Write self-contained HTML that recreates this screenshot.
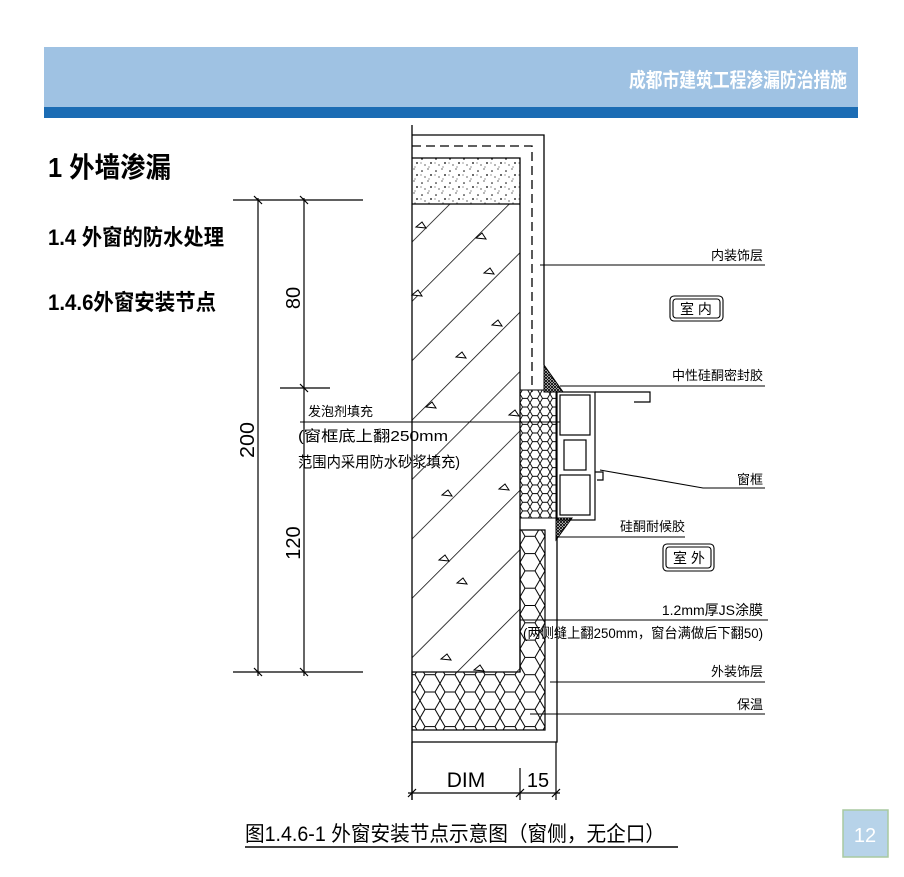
<!DOCTYPE html>
<html><head><meta charset="utf-8"><style>
html,body{margin:0;padding:0;background:#fff;}
svg{display:block;}
.cj{font-family:"Liberation Sans","Noto Sans CJK SC",sans-serif;}
</style></head><body>
<svg width="904" height="877" viewBox="0 0 904 877" xmlns="http://www.w3.org/2000/svg" class="cj">
<defs>
<pattern id="hatch" patternUnits="userSpaceOnUse" width="42" height="42" patternTransform="rotate(-45)">
<line x1="0" y1="0" x2="0" y2="42" stroke="#000" stroke-width="1.4" transform="rotate(90 21 21)"/>
</pattern>
<pattern id="hex" patternUnits="userSpaceOnUse" width="20" height="17.3">
<path d="M0,8.65 L5,0 L15,0 L20,8.65 L15,17.3 L5,17.3 Z M-5,17.3 L0,8.65 M20,8.65 L25,17.3" fill="none" stroke="#000" stroke-width="1"/>
</pattern>
<pattern id="hexs" patternUnits="userSpaceOnUse" width="10" height="8.66">
<path d="M0,4.33 L2.5,0 L7.5,0 L10,4.33 L7.5,8.66 L2.5,8.66 Z" fill="none" stroke="#000" stroke-width="0.9"/>
</pattern>
<pattern id="sand" patternUnits="userSpaceOnUse" width="14" height="12">
<circle cx="2" cy="3" r="0.8"/><circle cx="8" cy="1" r="0.6"/><circle cx="11" cy="7" r="0.9"/><circle cx="5" cy="9" r="0.6"/><circle cx="9" cy="11" r="0.5"/><circle cx="1" cy="7" r="0.5"/>
</pattern>
<pattern id="mesh" patternUnits="userSpaceOnUse" width="3" height="3"><rect width="3" height="3" fill="#fff"/><path d="M0,0L3,3M3,0L0,3" stroke="#000" stroke-width="0.9"/></pattern>
<path id="tri" d="M0,0 L-6,5 L4,6 Z" fill="#fff" stroke="#000" stroke-width="1"/>
</defs>
<!-- header -->
<rect x="44" y="47" width="814" height="61" fill="#9fc2e3"/>
<rect x="44" y="107" width="814" height="11" fill="#1b6cb4"/>
<text x="847" y="87" font-size="20" font-weight="bold" fill="#fff" text-anchor="end" textLength="218" lengthAdjust="spacingAndGlyphs">成都市建筑工程渗漏防治措施</text>
<!-- headings -->
<text x="48" y="177" font-size="28" font-weight="bold" textLength="123" lengthAdjust="spacingAndGlyphs">1 外墙渗漏</text>
<text x="48" y="245" font-size="22" font-weight="bold" textLength="176" lengthAdjust="spacingAndGlyphs">1.4 外窗的防水处理</text>
<text x="48" y="310" font-size="22" font-weight="bold" textLength="168" lengthAdjust="spacingAndGlyphs">1.4.6外窗安装节点</text>

<!-- wall -->
<rect x="412" y="158" width="108" height="46" fill="url(#sand)"/>
<rect x="412" y="204" width="108" height="468" fill="url(#hatch)"/>
<g>
<use href="#tri" x="422" y="222"/><use href="#tri" x="482" y="233"/><use href="#tri" x="490" y="268"/>
<use href="#tri" x="418" y="290"/><use href="#tri" x="498" y="320"/><use href="#tri" x="462" y="352"/>
<use href="#tri" x="432" y="402"/><use href="#tri" x="515" y="410"/><use href="#tri" x="448" y="490"/>
<use href="#tri" x="505" y="484"/><use href="#tri" x="445" y="555"/><use href="#tri" x="463" y="578"/>
<use href="#tri" x="447" y="654"/><use href="#tri" x="480" y="665"/>
</g>
<g fill="none" stroke="#000" stroke-width="1.3">
<line x1="412" y1="125" x2="412" y2="800"/>
<polyline points="412,135 544,135 544,365"/>
<polyline points="412,146 532,146 532,392" stroke-dasharray="9,5"/>
<polyline points="412,158 520,158 520,672"/>
<line x1="412" y1="204" x2="520" y2="204"/>
</g>
<!-- foam fine -->
<rect x="520" y="390" width="36" height="128" fill="url(#hexs)" stroke="#000"/>
<!-- insulation -->
<path d="M520,530 L545,530 L545,730 L412,730 L412,672 L520,672 Z" fill="url(#hex)" stroke="#000" stroke-width="1.2"/>
<polyline points="412,742 557,742 557,520" fill="none" stroke="#000" stroke-width="1.3"/>
<!-- sealants -->
<path d="M544,365 L544,392 L563,392 Z" fill="url(#mesh)" stroke="#000"/>
<path d="M556,518 L556,540 L572,518 Z" fill="url(#mesh)" stroke="#000"/>
<!-- window frame -->
<g fill="none" stroke="#000" stroke-width="1.2">
<rect x="557" y="392" width="38" height="128"/>
<rect x="560" y="395" width="30" height="40"/>
<rect x="560" y="475" width="30" height="40"/>
<polyline points="595,392 650,392 650,402 634,402"/>
<rect x="564" y="440" width="22" height="30"/>
<polyline points="595,472 603,472 603,480 597,480"/>
</g>
<!-- dims left -->
<g stroke="#000" stroke-width="1.2">
<line x1="258" y1="198" x2="258" y2="676"/>
<line x1="304" y1="198" x2="304" y2="676"/>
<line x1="233" y1="200" x2="363" y2="200"/>
<line x1="233" y1="672" x2="363" y2="672"/>
<line x1="280" y1="388" x2="330" y2="388"/>
<line x1="254" y1="196" x2="262" y2="204"/><line x1="300" y1="196" x2="308" y2="204"/>
<line x1="254" y1="668" x2="262" y2="676"/><line x1="300" y1="668" x2="308" y2="676"/>
<line x1="300" y1="384" x2="308" y2="392"/>
</g>
<g font-size="20" fill="#000" font-family="Liberation Sans,sans-serif">
<text transform="translate(254,440) rotate(-90)" text-anchor="middle" textLength="36" lengthAdjust="spacingAndGlyphs">200</text>
<text transform="translate(300,298) rotate(-90)" text-anchor="middle">80</text>
<text transform="translate(300,543) rotate(-90)" text-anchor="middle">120</text>
</g>
<!-- bottom dims -->
<g stroke="#000" stroke-width="1.2">
<line x1="412" y1="742" x2="412" y2="800"/>
<line x1="520" y1="768" x2="520" y2="800"/>
<line x1="556" y1="742" x2="556" y2="800"/>
<line x1="408" y1="793" x2="560" y2="793"/>
<line x1="408" y1="797" x2="416" y2="789"/><line x1="516" y1="797" x2="524" y2="789"/><line x1="552" y1="797" x2="560" y2="789"/>
</g>
<text x="466" y="787" font-size="21" text-anchor="middle" font-family="Liberation Sans,sans-serif">DIM</text>
<text x="538" y="787" font-size="20" text-anchor="middle" font-family="Liberation Sans,sans-serif">15</text>
<!-- leader lines -->
<g stroke="#000" stroke-width="1.1" fill="none">
<line x1="540" y1="265" x2="765" y2="265"/>
<line x1="560" y1="386" x2="765" y2="386"/>
<polyline points="600,470 703,488 765,488"/>
<line x1="556" y1="537" x2="685" y2="537"/>
<line x1="520" y1="620" x2="768" y2="620"/>
<line x1="550" y1="682" x2="765" y2="682"/>
<line x1="530" y1="714" x2="765" y2="714"/>
<line x1="300" y1="422" x2="560" y2="422"/>
<rect x="670" y="296" width="53" height="25" rx="4"/>
<rect x="673" y="299" width="47" height="19" rx="3"/>
<rect x="663" y="544" width="51" height="27" rx="4"/>
<rect x="666" y="547" width="45" height="21" rx="3"/>
</g>
<g font-size="13" fill="#000">
<text x="763" y="260" text-anchor="end">内装饰层</text>
<text x="696" y="314" text-anchor="middle" font-size="14">室 内</text>
<text x="763" y="380" text-anchor="end">中性硅酮密封胶</text>
<text x="763" y="484" text-anchor="end">窗框</text>
<text x="685" y="531" text-anchor="end">硅酮耐候胶</text>
<text x="689" y="563" text-anchor="middle" font-size="14">室 外</text>
<text x="763" y="615" text-anchor="end" font-size="14">1.2mm厚JS涂膜</text>
<text x="763" y="638" text-anchor="end" font-size="14" textLength="240" lengthAdjust="spacingAndGlyphs">(两侧缝上翻250mm，窗台满做后下翻50)</text>
<text x="763" y="676" text-anchor="end">外装饰层</text>
<text x="763" y="709" text-anchor="end">保温</text>
<text x="308" y="416" font-size="13">发泡剂填充</text>
<text x="298" y="441" font-size="15" textLength="150" lengthAdjust="spacingAndGlyphs">(窗框底上翻250mm</text>
<text x="298" y="467" font-size="15" textLength="162" lengthAdjust="spacingAndGlyphs">范围内采用防水砂浆填充)</text>
</g>
<!-- caption -->
<text x="245" y="841" font-size="21" textLength="420" lengthAdjust="spacingAndGlyphs">图1.4.6-1 外窗安装节点示意图（窗侧，无企口）</text>
<line x1="245" y1="847" x2="678" y2="847" stroke="#000" stroke-width="1.5"/>
<rect x="843" y="810" width="45" height="47" fill="#b7d3e9" stroke="#a8c9a0" stroke-width="1.5"/>
<text x="865" y="842" font-size="20" fill="#fff" text-anchor="middle" font-family="Liberation Sans,sans-serif">12</text>
</svg>
</body></html>
